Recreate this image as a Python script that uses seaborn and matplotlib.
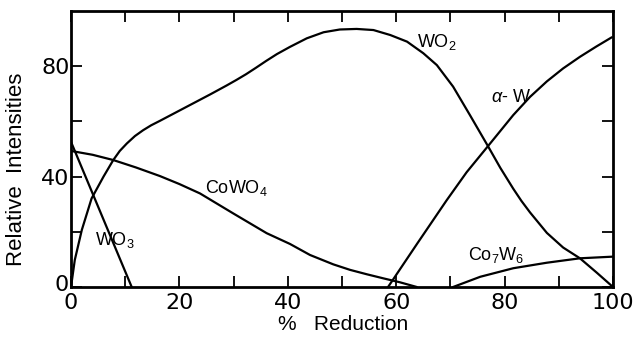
import numpy as np
import pandas as pd
import matplotlib
matplotlib.use("Agg")
import matplotlib.pyplot as plt
import matplotlib.transforms as mtransforms
import seaborn as sns

# Relative X-ray intensities of phases vs. percent reduction
wo3_x = [0, 11.2]
wo3_y = [52.6, 0]

cowo4_x = [0, 4, 7.8, 12, 16.4, 20, 23.8, 29.9, 36.1, 40.4, 44.1, 48.4, 51.5,
           54.6, 57.7, 60.7, 63.8]
cowo4_y = [49.3, 47.9, 46.0, 43.3, 40.2, 37.3, 33.9, 26.7, 19.5, 15.6, 11.6, 8.2, 6.2,
           4.6, 3.1, 1.7, 0]

wo2_x = [0, 0.7, 2.0, 3.8, 6.0, 7.8, 9.0, 10.3, 11.8, 13.3, 14.8, 16.4, 19.5, 22.6,
         25.7, 28.7, 30.5, 32.3, 34.1, 36.0, 38.0, 40.4, 43.5, 46.6, 49.6, 52.7,
         55.8, 58.9, 62.0, 65.0, 67.5, 70.5, 73.6, 77.0, 79.2, 81.6, 83.1, 84.7,
         87.8, 90.8, 93.9, 97.0, 100]
wo2_y = [0, 9.8, 20.7, 32.1, 40.0, 46.0, 49.3, 52.0, 54.7, 56.8, 58.6, 60.2, 63.4, 66.6,
         69.8, 73.0, 75.0, 77.1, 79.4, 81.9, 84.4, 87.0, 90.1, 92.3, 93.3, 93.5,
         93.1, 91.3, 88.9, 84.7, 80.4, 72.6, 62.3, 50.8, 43.2, 35.6, 31.2, 27.0,
         19.6, 14.3, 10.4, 5.2, 0]

alpha_w_x = [58.5, 63.9, 69.3, 73.0, 77.0, 81.6, 84.7, 87.8, 90.8, 93.9, 96.9, 99.8]
alpha_w_y = [0, 15.8, 31.4, 41.6, 51.2, 62.3, 68.9, 74.5, 79.2, 83.4, 87.1, 90.5]

co7w6_x = [70.5, 75.5, 81.6, 87.8, 93.9, 100]
co7w6_y = [0, 3.7, 6.8, 8.8, 10.4, 11.0]

labels = {
    "WO$_3$": (8.0, 17.0),
    "CoWO$_4$": (30.5, 35.8),
    "WO$_2$": (67.5, 88.8),
    "$\\alpha$- W": (81.2, 68.8),
    "Co$_7$W$_6$": (78.4, 11.5),
}

sns.set_theme(style="white")
plt.rcParams["font.family"] = ["Liberation Sans", "DejaVu Sans"]
plt.rcParams["mathtext.fontset"] = "custom"
plt.rcParams["mathtext.rm"] = "Liberation Sans"
plt.rcParams["mathtext.it"] = "Liberation Sans:italic"

fig = plt.figure(figsize=(6.41, 3.37), dpi=100)
ax = fig.add_axes([71 / 641, 1 - 287 / 337, 542 / 641, 276 / 337])

for xs, ys in [(wo3_x, wo3_y), (cowo4_x, cowo4_y), (wo2_x, wo2_y),
               (alpha_w_x, alpha_w_y), (co7w6_x, co7w6_y)]:
    df = pd.DataFrame({"x": xs, "y": ys})
    sns.lineplot(data=df, x="x", y="y", ax=ax, color="black", linewidth=1.6,
                 sort=False, estimator=None)

for text, (tx, ty) in labels.items():
    ax.text(tx, ty, text, fontsize=13, ha="center", va="center", color="black")

ax.set_xlim(0, 100)
ax.set_ylim(0, 100)
ax.set_xticks(np.arange(0, 101, 20))
ax.set_xticks(np.arange(10, 100, 10), minor=True)
ax.set_yticks([0, 40, 80])
ax.set_yticks([20, 60], minor=True)
ax.tick_params(which="both", direction="in", top=True, right=True, bottom=True,
               left=True, length=8, width=1.3, color="black", labelsize=16,
               labelcolor="black")
ax.tick_params(axis="y", which="both", pad=1)
ax.tick_params(axis="x", which="both", pad=4)
for lab in ax.get_xticklabels() + ax.get_yticklabels():
    lab.set_fontfamily("DejaVu Sans")

# lift the y-axis "0" a little so it sits beside the x-axis "0"
fig.canvas.draw()
y0 = ax.get_yticklabels()[0]
y0.set_transform(y0.get_transform() + mtransforms.ScaledTranslation(-1 / 100, 4 / 100, fig.dpi_scale_trans))

for s in ax.spines.values():
    s.set_visible(True)
    s.set_color("black")
    s.set_linewidth(2)

ax.set_xlabel("%   Reduction", fontsize=15, color="black")
ax.set_ylabel("Relative  Intensities", fontsize=16, color="black")
ax.xaxis.set_label_coords(0.502, -0.1)
ax.yaxis.set_label_coords(-0.082, 0.428)

fig.savefig("out.png", dpi=100, facecolor="white")
